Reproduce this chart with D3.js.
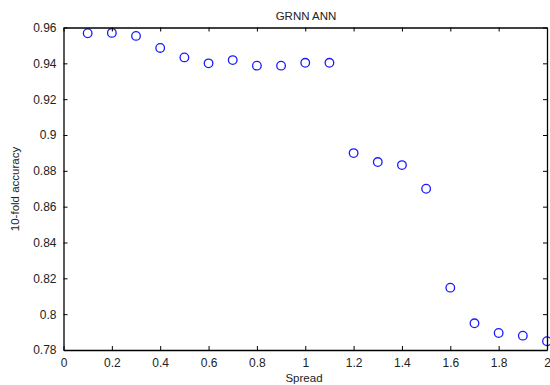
<!DOCTYPE html>
<html>
<head>
<meta charset="utf-8">
<script src="https://cdn.jsdelivr.net/npm/d3@7"></script>
<style>
  body { margin: 0; background: #fff; }
  text { font-family: "Liberation Sans", Arial, sans-serif; fill: #222; }
</style>
</head>
<body>
<div id="chart"></div>
<script>
let spread = [0.1, 0.2, 0.3, 0.4, 0.5, 0.6, 0.7, 0.8, 0.9, 1.0,
  1.1, 1.2, 1.3, 1.4, 1.5, 1.6, 1.7, 1.8, 1.9, 2.0]
let accuracy = [0.9568, 0.9570, 0.9553, 0.9486, 0.9433, 0.9400, 0.9418, 0.9387, 0.9387, 0.9403,
  0.9403, 0.8899, 0.8849, 0.8832, 0.8700, 0.8148, 0.7949, 0.7895, 0.7880, 0.7849]
let xTicks = [0, 0.2, 0.4, 0.6, 0.8, 1, 1.2, 1.4, 1.6, 1.8, 2]
let yTicks = [0.78, 0.8, 0.82, 0.84, 0.86, 0.88, 0.9, 0.92, 0.94, 0.96]

let margin = { top: 27.5, left: 63.5, right: 3, bottom: 35 }
let width = 550 - margin.left - margin.right
let height = 385 - margin.top - margin.bottom

let svg = d3
  .select('#chart')
  .append('svg')
  .attr('width', 550)
  .attr('height', 385)

let g = svg
  .append('g')
  .attr('transform', 'translate(' + margin.left + ',' + margin.top + ')')

let x = d3.scaleLinear().domain([0, 2]).range([0, width])
let y = d3.scaleLinear().domain([0.78, 0.96]).range([height, 0])

let fmt = d => String(d)

// points first so the frame sits on top
g.selectAll('.pt')
  .data(spread)
  .enter()
  .append('circle')
  .attr('class', 'pt')
  .attr('cx', d => x(d))
  .attr('cy', (d, i) => y(accuracy[i]))
  .attr('r', 4.3)
  .attr('fill', 'none')
  .attr('stroke', '#1a1aff')
  .attr('stroke-width', 1.3)

g.append('g')
  .attr('transform', 'translate(0,' + height + ')')
  .call(d3.axisBottom(x).tickValues(xTicks).tickFormat(fmt).tickSizeInner(-4).tickSizeOuter(0).tickPadding(8))
g.append('g')
  .call(d3.axisTop(x).tickValues(xTicks).tickFormat('').tickSizeInner(-4).tickSizeOuter(0))
g.append('g')
  .call(d3.axisLeft(y).tickValues(yTicks).tickFormat(fmt).tickSizeInner(-4).tickSizeOuter(0).tickPadding(7))
g.append('g')
  .attr('transform', 'translate(' + width + ',0)')
  .call(d3.axisRight(y).tickValues(yTicks).tickFormat('').tickSizeInner(-4).tickSizeOuter(0))

svg.selectAll('.domain').attr('stroke', '#000').attr('stroke-width', 1.3)
svg.selectAll('.tick line').attr('stroke', '#000').attr('stroke-width', 1)
svg.selectAll('.tick text')
  .attr('font-size', 12)
  .attr('font-family', '"Liberation Sans", Arial, sans-serif')
  .attr('fill', '#222')

svg.append('text')
  .attr('x', 306)
  .attr('y', 20)
  .attr('text-anchor', 'middle')
  .attr('font-size', 11.5)
  .text('GRNN ANN')

svg.append('text')
  .attr('x', 304)
  .attr('y', 382)
  .attr('text-anchor', 'middle')
  .attr('font-size', 11.5)
  .text('Spread')

svg.append('text')
  .attr('transform', 'translate(19,189) rotate(-90)')
  .attr('text-anchor', 'middle')
  .attr('font-size', 11.5)
  .text('10-fold accuracy')
</script>
</body>
</html>
